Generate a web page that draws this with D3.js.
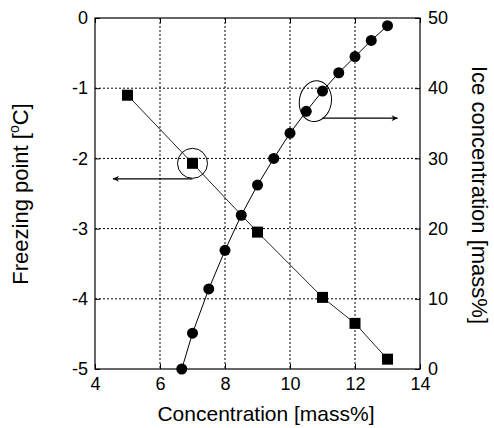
<!DOCTYPE html>
<html>
<head>
<meta charset="utf-8">
<script src="https://cdn.jsdelivr.net/npm/d3@7"></script>
<style>
  body { margin: 0; background: #fff; }
  text { font-family: "Liberation Sans", Arial, sans-serif; fill: #000; }
</style>
</head>
<body>
<div id="chart-area"></div>
<script>
// data
var concFP = [5, 7, 9, 11, 12, 13];
var freezePt = [-1.1, -2.07, -3.05, -3.98, -4.35, -4.86];
var concIce = [6.67, 7, 7.5, 8, 8.5, 9, 9.5, 10, 10.5, 11, 11.5, 12, 12.5, 13];
var iceConc = [0, 5.1, 11.4, 16.9, 21.9, 26.2, 30.0, 33.6, 36.7, 39.6, 42.2, 44.5, 46.8, 48.9];
var xTicks = [4, 6, 8, 10, 12, 14];
var yLeftTicks = [0, -1, -2, -3, -4, -5];
var yRightTicks = [0, 10, 20, 30, 40, 50];

var margin = { left: 95, right: 74, top: 18, bottom: 59 };
var width = 494 - margin.left - margin.right;
var height = 428 - margin.top - margin.bottom;

var svg = d3.select("#chart-area").append("svg")
    .attr("width", 494)
    .attr("height", 428);

var g = svg.append("g")
    .attr("transform", "translate(" + margin.left + ", " + margin.top + ")");

var x = d3.scaleLinear().domain([4, 14]).range([0, width]);
var yL = d3.scaleLinear().domain([-5, 0]).range([height, 0]);
var yR = d3.scaleLinear().domain([0, 50]).range([height, 0]);

var plain = (d) => String(d);  // keep the hyphen minus of the original

// dotted grid
g.selectAll(".vgrid")
    .data(xTicks.slice(1, -1))
    .enter().append("line")
        .attr("x1", (d) => x(d)).attr("x2", (d) => x(d))
        .attr("y1", 0).attr("y2", height)
        .attr("stroke", "#000").attr("stroke-width", 1)
        .attr("stroke-dasharray", "2,2");

g.selectAll(".hgrid")
    .data(yLeftTicks.slice(1, -1))
    .enter().append("line")
        .attr("x1", 0).attr("x2", width)
        .attr("y1", (d) => yL(d)).attr("y2", (d) => yL(d))
        .attr("stroke", "#000").attr("stroke-width", 1)
        .attr("stroke-dasharray", "2,2");

// axes with inward ticks
function styleAxis(sel) {
    sel.select(".domain").remove();
    sel.selectAll("line").attr("stroke", "#000");
    sel.selectAll("text").attr("font-size", "18px")
        .style("font-family", "'Liberation Sans', Arial, sans-serif");
}

g.append("g")
    .attr("transform", "translate(0, " + height + ")")
    .call(d3.axisBottom(x).tickValues(xTicks).tickSize(-5).tickPadding(8).tickFormat(plain))
    .call(styleAxis);

g.append("g")
    .call(d3.axisLeft(yL).tickValues(yLeftTicks).tickSize(-5).tickPadding(7).tickFormat(plain))
    .call(styleAxis);

g.append("g")
    .attr("transform", "translate(" + width + ", 0)")
    .call(d3.axisRight(yR).tickValues(yRightTicks).tickSize(-5).tickPadding(8).tickFormat(plain))
    .call(styleAxis);

g.append("g")
    .call(d3.axisTop(x).tickValues(xTicks).tickSize(-5).tickFormat(""))
    .call(styleAxis);

// frame
g.append("rect")
    .attr("width", width).attr("height", height)
    .attr("fill", "none").attr("stroke", "#000").attr("stroke-width", 1.2);

// freezing point series
var fp = concFP.map((c, i) => ({ x: c, y: freezePt[i] }));
g.append("path")
    .datum(fp)
    .attr("fill", "none").attr("stroke", "#222").attr("stroke-width", 1)
    .attr("d", d3.line().x((d) => x(d.x)).y((d) => yL(d.y)));

g.selectAll(".sq")
    .data(fp)
    .enter().append("rect")
        .attr("x", (d) => x(d.x) - 5.5)
        .attr("y", (d) => yL(d.y) - 5.5)
        .attr("width", 11).attr("height", 11)
        .attr("fill", "#000");

// ice concentration series
var ic = concIce.map((c, i) => ({ x: c, y: iceConc[i] }));
g.append("path")
    .datum(ic)
    .attr("fill", "none").attr("stroke", "#000").attr("stroke-width", 1)
    .attr("d", d3.line().x((d) => x(d.x)).y((d) => yR(d.y)));

g.selectAll(".dot")
    .data(ic)
    .enter().append("circle")
        .attr("cx", (d) => x(d.x))
        .attr("cy", (d) => yR(d.y))
        .attr("r", 5.5)
        .attr("fill", "#000");

// annotations
var defs = svg.append("defs");
defs.append("marker")
    .attr("id", "arrow")
    .attr("viewBox", "0 0 10 10")
    .attr("refX", 10).attr("refY", 5)
    .attr("markerWidth", 10).attr("markerHeight", 6)
    .attr("markerUnits", "userSpaceOnUse")
    .attr("orient", "auto")
    .append("path")
        .attr("d", "M0,0 L10,5 L0,10 L3,5 Z")
        .attr("fill", "#000");

var p1 = fp[1];
g.append("circle")
    .attr("cx", x(p1.x)).attr("cy", yL(p1.y))
    .attr("r", 15)
    .attr("fill", "none").attr("stroke", "#000").attr("stroke-width", 1);
g.append("line")
    .attr("x1", x(p1.x)).attr("y1", yL(p1.y) + 15.5)
    .attr("x2", x(4.55)).attr("y2", yL(p1.y) + 15.5)
    .attr("stroke", "#000").attr("stroke-width", 1.2)
    .attr("marker-end", "url(#arrow)");

var ex = (x(10.5) + x(11)) / 2 + 1, ey = (yR(36.7) + yR(39.6)) / 2;
g.append("ellipse")
    .attr("cx", ex).attr("cy", ey)
    .attr("rx", 16).attr("ry", 20.5)
    .attr("transform", "rotate(10," + ex + "," + ey + ")")
    .attr("fill", "none").attr("stroke", "#000").attr("stroke-width", 1);
g.append("line")
    .attr("x1", ex + 7).attr("y1", ey + 17)
    .attr("x2", x(13.31)).attr("y2", ey + 17)
    .attr("stroke", "#000").attr("stroke-width", 1.2)
    .attr("marker-end", "url(#arrow)");

// axis titles
svg.append("text")
    .attr("x", 266).attr("y", 421)
    .attr("font-size", "21px")
    .attr("text-anchor", "middle")
    .text("Concentration [mass%]");

var lt = svg.append("text")
    .attr("transform", "translate(28, 194) rotate(-90)")
    .attr("font-size", "22px")
    .attr("text-anchor", "middle");
lt.append("tspan").text("Freezing point [");
lt.append("tspan").attr("font-size", "14px").attr("dy", "-9").text("o");
lt.append("tspan").attr("dy", "9").text("C]");

svg.append("text")
    .attr("transform", "translate(472, 195) rotate(90)")
    .attr("font-size", "22px")
    .attr("text-anchor", "middle")
    .text("Ice concentration [mass%]");
</script>
</body>
</html>
